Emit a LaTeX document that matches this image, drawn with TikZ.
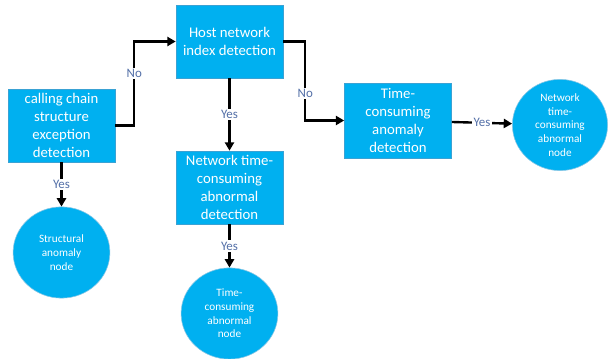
\documentclass[tikz,border=0pt]{standalone}
\usepackage{fontspec}
\setmainfont{Carlito}
\usetikzlibrary{arrows.meta,shapes.geometric}
\definecolor{boxblue}{HTML}{00B0F0}
\definecolor{rimblue}{HTML}{3AA2D4}
\definecolor{tagblue}{HTML}{5470A8}

\begin{document}
\begin{tikzpicture}[x=0.025cm, y=-0.025cm,
    stepbox/.style={rectangle, fill=boxblue, draw=rimblue, line width=0.4pt, text=white,
      minimum width=2.675cm, minimum height=1.825cm, align=center, inner sep=1pt,
      font=\fontsize{10.5}{12.8}\selectfont},
    endnode/.style={ellipse, fill=boxblue, draw=rimblue!60!white, line width=0.4pt, text=white,
      minimum width=2.42cm, minimum height=2.28cm, align=center, inner sep=0pt,
      font=\fontsize{8}{9.8}\selectfont},
    flow/.style={line width=1.7pt, -{Triangle[length=6pt,width=6.5pt]}},
    tag/.style={fill=white, text=tagblue, inner sep=1pt, font=\fontsize{9.2}{11}\selectfont}]
    \useasboundingbox (0,0) rectangle (608,359);

    % detection steps
    \node[stepbox] (chain) at (61.5,125.5) {calling chain\\structure\\exception\\detection};
    \node[stepbox] (host) at (229.5,41.5) {Host network\\index detection};
    \node[stepbox] (netdet) at (229.5,187.5) {Network time-\\consuming\\abnormal\\detection};
    \node[stepbox, minimum height=1.875cm] (timedet) at (398,120.5) {Time-\\consuming\\anomaly\\detection};

    % abnormal nodes found
    \node[endnode, minimum width=2.38cm] (netnode) at (560,125) {Network\\time-\\consuming\\abnormal\\node};
    \node[endnode] (structnode) at (61.5,252.5) {Structural\\anomaly\\node};
    \node[endnode] (timenode) at (229.5,313.5) {Time-\\consuming\\abnormal\\node};

    \draw[flow] (chain.east) -- ++(19,0) |- (host.west) node[tag, pos=0.31] {No};
    \draw[flow] (host.east) -- ++(22,0) |- (timedet.west) node[tag, pos=0.33] {No};
    \draw[flow] (host) -- (netdet) node[tag, midway] {Yes};
    \draw[flow] (timedet) -- (netnode) node[tag, midway] {Yes};
    \draw[flow] (chain) -- (structnode) node[tag, midway] {Yes};
    \draw[flow] (netdet) -- (timenode) node[tag, midway] {Yes};
\end{tikzpicture}
\end{document}
